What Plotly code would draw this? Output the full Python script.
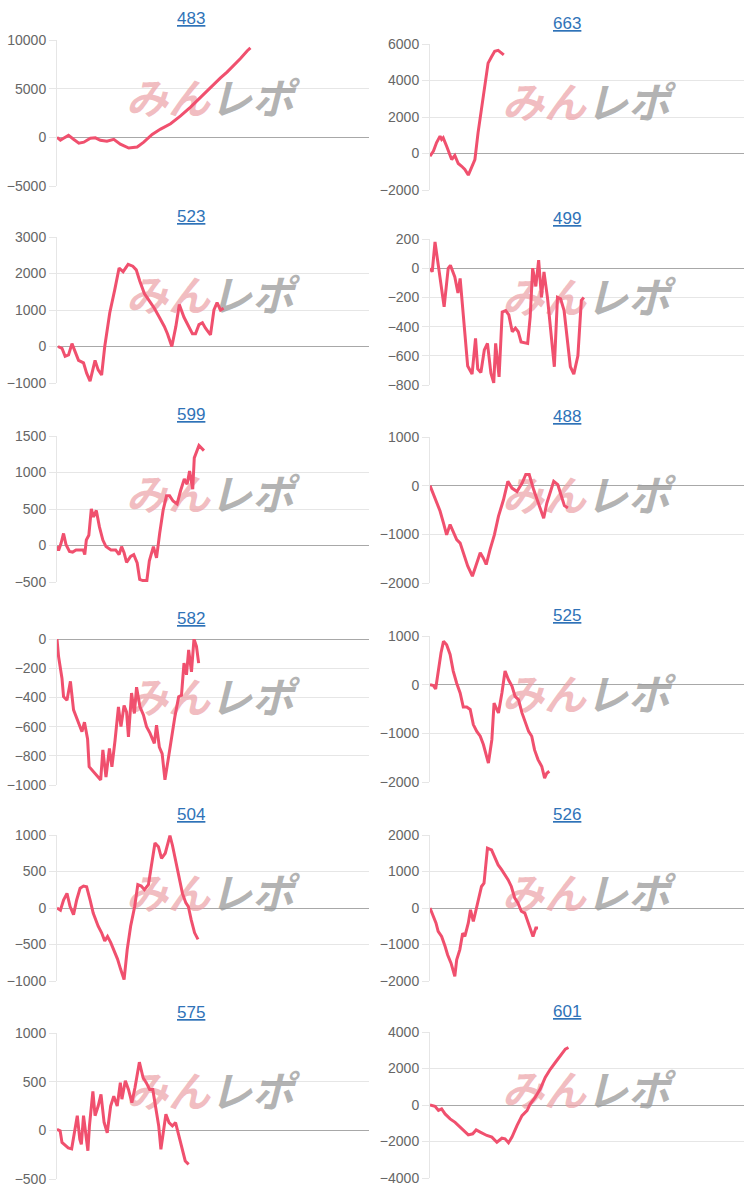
import plotly.graph_objects as go

# ---------------- data (x = progress along the session, 0-100 scale) ----------------
titles = ["483", "663", "523", "499", "599", "488", "582", "525", "504", "526", "575", "601"]

x_483 = [0, 1.1, 2.1, 3.7, 5.3, 7.0, 8.6, 10.7, 12.3, 13.9, 16.0, 18.2, 20.3, 23.0, 25.7, 27.8,
         30.5, 33.2, 36.4, 39.6, 42.8, 46.0, 49.2, 52.4, 54.5, 56.7, 58.8, 61.0, 62.0]
y_483 = [0, -300, -100, 200, -200, -600, -500, -100, -50, -300, -400, -200, -700, -1100, -1000, -500,
         300, 850, 1400, 2200, 3100, 4100, 5200, 6100, 6700, 7400, 8100, 8900, 9200]

x_663 = [0, 1.1, 2.1, 3.2, 3.7, 4.2, 5.3, 6.9, 7.9, 9.0, 10.1, 11.1, 12.2, 13.2, 14.3, 15.3,
         16.4, 17.5, 18.5, 19.6, 20.6, 21.7, 22.8, 23.5]
y_663 = [-150, 130, 600, 950, 770, 860, 400, -330, -110, -550, -700, -870, -1180, -780, -330, 1130,
         2400, 3850, 4950, 5300, 5600, 5650, 5500, 5400]

x_523 = [0.3, 1.6, 2.6, 3.7, 4.8, 5.8, 6.9, 8.5, 9.5, 10.6, 12.2, 13.2, 14.3, 15.3, 16.9, 18.5,
         19.9, 21.2, 22.8, 24.3, 25.4, 26.5, 28.0, 29.6, 31.2, 32.8, 34.4, 35.4, 36.8, 38.1, 39.2,
         40.7, 42.3, 43.4, 44.4, 45.5, 46.6, 47.6, 49.2, 50.3, 51.3, 52.4, 53.4]
y_523 = [0, -50, -270, -230, 80, -130, -380, -450, -730, -950, -380, -640, -780, 0, 920, 1550,
         2150, 2050, 2250, 2200, 2100, 1800, 1450, 1250, 1050, 800, 550, 350, 0, 550, 1150,
         800, 550, 350, 350, 600, 650, 500, 320, 1000, 1200, 1000, 1050]

x_499 = [0, 0.7, 1.6, 2.3, 3.1, 4.5, 5.8, 6.5, 7.9, 8.9, 9.6, 11.0, 12.0, 13.4, 14.5, 15.2,
         16.2, 17.3, 18.3, 19.4, 20.3, 20.9, 22.0, 23.0, 24.1, 25.1, 26.2, 27.2, 28.1, 29.0, 31.1,
         31.9, 32.7, 33.7, 34.6, 35.5, 36.3, 37.4, 38.5, 39.6, 40.6, 41.6, 42.7, 43.7, 44.7, 45.8,
         47.1, 48.2, 49.0]
y_499 = [0, -25, 180, 70, -25, -265, 0, 20, -60, -170, -70, -450, -670, -725, -480, -690,
         -715, -560, -515, -720, -785, -515, -745, -300, -290, -320, -435, -410, -435, -505, -515,
         -335, 0, -125, 55, -200, -25, -200, -435, -675, -200, -210, -290, -495, -675, -725,
         -600, -220, -200]

x_599 = [0, 0.5, 1.3, 2.1, 2.9, 4.0, 5.0, 6.1, 7.3, 8.4, 8.9, 9.4, 10.2, 11.0, 11.7, 12.6,
         13.6, 14.7, 15.7, 17.3, 18.8, 19.9, 20.7, 21.5, 22.3, 23.6, 24.6, 25.7, 26.5, 27.5, 28.8,
         29.6, 30.9, 31.9, 32.9, 34.0, 35.1, 36.1, 37.2, 38.5, 39.6, 40.8, 41.7, 42.5, 43.5, 44.0,
         45.5, 47.1]
y_599 = [-10, -70, 30, 165, 10, -80, -90, -60, -60, -60, -125, 75, 140, 500, 390, 480,
         255, 75, -15, -60, -60, -125, -15, -100, -230, -150, -125, -240, -465, -480, -480,
         -210, -15, -170, 165, 480, 680, 680, 610, 570, 750, 910, 840, 1020, 770, 1200,
         1370, 1300]

x_488 = [0, 1.6, 3.2, 4.3, 5.3, 6.4, 7.4, 8.5, 9.6, 10.6, 12.0, 13.5, 14.9, 16.0, 17.0, 17.9,
         19.1, 20.5, 21.8, 23.4, 24.8, 26.1, 27.7, 29.3, 30.5, 31.6, 33.0, 34.6, 36.2, 37.2, 38.3,
         39.4, 40.7, 41.8, 42.8, 43.9]
y_488 = [0, -280, -520, -770, -1010, -800, -940, -1110, -1180, -1380, -1650, -1860, -1590, -1380, -1490, -1620,
         -1320, -1010, -630, -290, 90, -50, -120, 50, 230, 230, -80, -390, -670, -360, -120,
         90, 20, -220, -410, -460]

x_582 = [0, 0.5, 1.6, 2.1, 3.2, 4.3, 5.3, 6.4, 8.0, 8.8, 9.8, 10.3, 11.7, 13.0, 14.0, 14.7,
         15.7, 16.8, 17.6, 18.6, 19.7, 20.5, 21.5, 22.3, 22.9, 23.9, 24.8, 25.5, 26.6, 27.7, 28.7,
         29.8, 31.2, 31.9, 32.8, 33.7, 34.6, 35.6, 36.7, 37.8, 39.0, 39.9, 40.7, 41.5, 42.2, 43.1,
         43.9, 44.7, 45.4, 46.2]
y_582 = [0, -120, -270, -395, -420, -290, -485, -545, -635, -570, -685, -875, -910, -945, -965, -760,
         -945, -750, -875, -695, -465, -600, -455, -500, -670, -370, -510, -330, -465, -520, -600,
         -645, -715, -590, -740, -785, -965, -830, -670, -530, -395, -385, -165, -245, -75, -225,
         0, -50, -165]

x_525 = [0, 1.1, 1.8, 2.7, 3.5, 4.3, 5.3, 6.4, 7.4, 8.5, 9.6, 10.6, 11.7, 12.8, 13.8, 14.9,
         16.0, 17.0, 17.8, 18.6, 19.7, 20.4, 21.1, 21.8, 22.9, 23.9, 25.0, 26.1, 27.1, 28.2, 29.3,
         30.3, 31.4, 32.4, 33.3, 34.4, 35.1, 35.6, 36.5, 37.2, 38.0]
y_525 = [0, -20, -90, 310, 650, 890, 820, 620, 280, 30, -170, -460, -460, -510, -820, -960,
         -1060, -1230, -1410, -1610, -1130, -380, -480, -580, -170, 280, 100, -30, -240, -310, -580,
         -750, -960, -1060, -1340, -1540, -1640, -1680, -1920, -1820, -1780]

x_504 = [0, 1.1, 2.1, 3.2, 4.2, 5.3, 6.3, 7.4, 8.5, 9.5, 10.6, 11.6, 13.2, 14.3, 15.3, 16.2,
         17.2, 18.3, 19.4, 20.4, 21.5, 22.5, 23.6, 24.9, 25.9, 27.0, 28.0, 29.3, 30.7, 31.4, 32.5,
         33.5, 34.7, 35.4, 36.2, 37.0, 38.1, 39.2, 40.2, 41.3, 42.1, 43.0, 44.1, 45.2]
y_504 = [0, -30, 110, 200, 20, -90, 110, 270, 300, 290, 110, -70, -250, -340, -450, -390,
         -470, -590, -700, -840, -980, -570, -250, 20, 320, 300, 250, 320, 680, 890, 840,
         680, 750, 860, 990, 860, 640, 390, 200, 70, 20, -160, -340, -430]

x_526 = [0, 0.8, 1.9, 2.6, 3.7, 4.8, 5.6, 6.7, 7.9, 8.5, 9.5, 10.4, 11.1, 12.2, 12.9, 13.8,
         14.6, 15.6, 16.4, 17.2, 18.3, 19.6, 20.6, 21.7, 22.8, 23.8, 24.9, 25.9, 27.0, 28.0, 29.1,
         30.2, 31.2, 32.1, 32.8, 33.7, 34.4]
y_526 = [0, -180, -410, -640, -780, -1050, -1280, -1510, -1870, -1420, -1140, -690, -780, -410, -50, -370,
         -50, 320, 590, 680, 1640, 1590, 1410, 1180, 1050, 910, 770, 590, 270, 140, -90,
         -140, -410, -590, -780, -550, -550]

x_575 = [0, 1.0, 1.6, 2.8, 3.6, 4.7, 5.5, 6.5, 7.3, 7.8, 8.5, 9.4, 9.9, 10.4, 11.5, 12.2,
         13.2, 14.1, 15.1, 16.1, 17.2, 18.2, 19.3, 20.3, 20.8, 21.9, 22.9, 24.0, 25.0, 26.4, 27.6,
         28.6, 29.7, 30.7, 31.8, 32.6, 33.3, 34.4, 34.9, 35.9, 37.0, 38.0, 39.1, 40.1, 41.1, 42.2]
y_575 = [10, -5, -125, -160, -180, -190, -25, 150, -90, -145, 150, -60, -210, 45, 400, 150,
         250, 370, 80, -25, 250, 350, 250, 490, 320, 510, 420, 285, 440, 700, 540,
         490, 420, 420, 215, 45, -195, 45, 165, 80, 45, 80, -60, -180, -315, -350]

x_601 = [0, 1.6, 2.7, 3.7, 4.8, 6.4, 8.0, 9.6, 11.2, 12.2, 13.6, 14.7, 16.0, 17.0, 18.1, 19.7,
         21.3, 22.9, 23.9, 25.0, 26.1, 27.7, 29.3, 30.9, 31.9, 33.5, 35.1, 36.7, 38.3, 39.9, 41.5,
         43.1, 44.1]
y_601 = [0, -70, -300, -220, -490, -760, -950, -1220, -1490, -1640, -1580, -1370, -1490, -1580, -1670, -1760,
         -2040, -1820, -1850, -2070, -1760, -1130, -580, -310, 50, 420, 870, 1510, 1960, 2330, 2690,
         3060, 3150]

xs = [x_483, x_663, x_523, x_499, x_599, x_488, x_582, x_525, x_504, x_526, x_575, x_601]
ys = [y_483, y_663, y_523, y_499, y_599, y_488, y_582, y_525, y_504, y_526, y_575, y_601]

y_min = [-5000, -2000, -1000, -800, -500, -2000, -1000, -2000, -1000, -2000, -500, -4000]
y_max = [10000, 6000, 3000, 200, 1500, 1000, 0, 1000, 1000, 2000, 1000, 4000]
y_step = [5000, 2000, 1000, 200, 500, 1000, 200, 1000, 500, 1000, 500, 2000]

# ---------------- layout constants ----------------
W, H = 750, 1191
col_x = [(57, 369), (430, 744)]
tops = [[40, 237, 436, 639, 835, 1033], [44, 239, 437, 636, 835, 1032]]
plot_h = 146
title_cx = [191, 567]
mark_cx = [210, 586]       # watermark centre (px)
mark_dy = 63               # watermark centre below plot top (px)
X_RANGE = [0, 100]

LINE = "#f0506e"
GRID = "#e6e6e6"
WATERMARK = ("<b><i><span style='color:rgba(236,160,165,0.7)'>みん</span>"
             "<span style='color:rgba(150,150,150,0.72)'>レポ</span></i></b>")

fig = go.Figure()
annotations = []
for i in range(12):
    r, c = divmod(i, 2)
    k = "" if i == 0 else str(i + 1)
    x0, x1 = col_x[c]
    top = tops[c][r]
    bot = top + plot_h
    # watermark drawn first (behind the line), placed in axis-fraction terms
    fx = (mark_cx[c] - x0) / (x1 - x0)
    fy = mark_dy / plot_h
    wx = X_RANGE[0] + fx * (X_RANGE[1] - X_RANGE[0])
    wy = y_max[i] - fy * (y_max[i] - y_min[i])
    fig.add_trace(go.Scatter(
        x=[wx], y=[wy], mode="text", text=[WATERMARK], textposition="middle center",
        textfont=dict(family="Noto Sans CJK JP, sans-serif", size=42),
        hoverinfo="skip", cliponaxis=False,
        xaxis="x" + k, yaxis="y" + k, showlegend=False))
    fig.add_trace(go.Scatter(
        x=xs[i], y=ys[i], mode="lines",
        line=dict(color=LINE, width=3), hoverinfo="skip",
        xaxis="x" + k, yaxis="y" + k, showlegend=False))
    fig.layout["xaxis" + k] = dict(
        domain=[x0 / W, x1 / W], range=X_RANGE, showgrid=False, zeroline=False,
        showticklabels=False, showline=False, ticks="", anchor="y" + k, fixedrange=True)
    fig.layout["yaxis" + k] = dict(
        domain=[1 - bot / H, 1 - top / H], range=[y_min[i], y_max[i]], dtick=y_step[i],
        tick0=0, tickformat="d", showgrid=True, gridcolor=GRID, gridwidth=1,
        zeroline=True, zerolinecolor="#a8a8a8", zerolinewidth=1,
        showline=True, linecolor=GRID, linewidth=1,
        ticks="outside", ticklen=7, tickcolor=GRID,
        tickfont=dict(family="Liberation Sans, Arial, sans-serif", size=14, color="#666666"),
        anchor="x" + k, fixedrange=True, automargin=False)
    # title
    annotations.append(dict(
        text="<u>" + titles[i] + "</u>", xref="paper", yref="paper",
        x=title_cx[c] / W, y=1 - (top - 21) / H, xanchor="center", yanchor="middle",
        showarrow=False,
        font=dict(family="Liberation Sans, Arial, sans-serif", size=17, color="#2f73b8")))

fig.update_layout(
    width=W, height=H, margin=dict(l=0, r=0, t=0, b=0, pad=0, autoexpand=False),
    paper_bgcolor="white", plot_bgcolor="white",
    annotations=annotations)

fig.write_html("out.html")
